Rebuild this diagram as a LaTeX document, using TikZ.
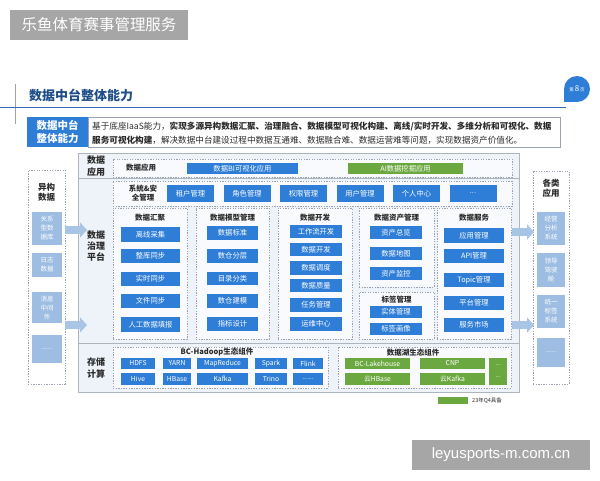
\documentclass[tikz,border=0pt]{standalone}
\usepackage{fontspec}
\setmainfont{Noto Sans CJK SC}
\newfontfamily\wmfont{Liberation Sans}
\usetikzlibrary{arrows.meta}
\definecolor{bblue}{HTML}{2E7DD7}
\definecolor{ggreen}{HTML}{6BA83F}
\definecolor{lblue}{HTML}{9DBDE3}
\definecolor{arrowc}{HTML}{A8C5E5}
\definecolor{titlec}{HTML}{1F4E89}
\definecolor{dgray}{HTML}{9AA3AF}
\definecolor{mainfill}{HTML}{EEF3F9}
\definecolor{innerfill}{HTML}{F8FAFD}
\definecolor{txtdark}{HTML}{2B2B2B}
\definecolor{hdrgray}{HTML}{A6A6A6}
\definecolor{linec}{HTML}{2B6CB5}
\newcommand\Bx[7][]{%
  \pgfmathsetmacro\bxcx{(#3+#5)/2}%
  \pgfmathsetmacro\bxcy{(#4+#6)/2}%
  \pgfmathsetmacro\bxw{#5-#3}%
  \pgfmathsetmacro\bxh{#6-#4}%
  \node[#1,minimum width=\bxw pt,minimum height=\bxh pt,inner sep=0pt] (#2) at (\bxcx,\bxcy) {#7};}
\begin{document}
\begin{tikzpicture}[x=1pt,y=-1pt,
  ibox/.style={fill=bblue,text=white,font=\fontsize{7.3}{8}\selectfont},
  gbox/.style={fill=ggreen,text=white,font=\fontsize{7.3}{8}\selectfont,align=center},
  cbox/.style={fill=lblue,text=white,align=center,font=\fontsize{6.5}{9}\selectfont},
  dbox/.style={draw=dgray,fill=innerfill,line width=0.7pt,dash pattern=on 1.3pt off 1.3pt},
  subt/.style={text=txtdark,font=\fontsize{7.5}{9}\selectfont\bfseries,align=center},
  rowlab/.style={text=txtdark,font=\fontsize{9}{11.3}\selectfont\bfseries,align=center},
  sepline/.style={draw=dgray!80,line width=0.8pt},
  barrow/.style={arrowc,line width=8pt,-{Triangle[length=7pt,width=15pt]}},
  introt/.style={anchor=west,text=txtdark,font=\fontsize{8.6}{10}\selectfont,inner sep=0pt}
]
\useasboundingbox (0,0) rectangle (600,480);
\fill[white] (0,0) rectangle (600,480);
% header
\Bx[fill=hdrgray,text=white,font=\fontsize{15.5}{17}\selectfont]{hdr}{10}{10}{188}{40}{乐鱼体育赛事管理服务}
% title
\node[anchor=west,text=titlec,font=\fontsize{13}{15}\selectfont\bfseries,inner sep=0pt] (title) at (29,95.5) {数据中台整体能力};
\draw[dgray,line width=0.6pt] (15,84) -- (15,124);
\draw[linec,line width=1.1pt] (0,107.5) -- (566,107.5);
\fill[bblue] (577,89) circle (13);
\fill[bblue] (564,89) rectangle (577,102);
\node[text=white,font=\fontsize{4.5}{5}\selectfont,inner sep=0pt] (page) at (577,89) {第 {\fontsize{8}{9}\selectfont 8} 页};
% intro
\Bx[fill=bblue,text=white,align=center,font=\fontsize{10.5}{13}\selectfont\bfseries]{introlab}{27}{117}{88}{147}{数据中台\\整体能力}
\Bx[draw=dgray,fill=white,line width=0.7pt]{introbox}{88}{117}{560}{147}{}
\node[introt] (il1) at (92,126.5) {基于底座IaaS能力，\textbf{实现多源异构数据汇聚、治理融合、数据模型可视化构建、离线/实时开发、多维分析和可视化、数据}};
\node[introt] (il2) at (92,140.5) {\textbf{服务可视化构建}，解决数据中台建设过程中数据互通难、数据融合难、数据运营难等问题，实现数据资产价值化。};
% main box
\Bx[draw=dgray!80,fill=mainfill,line width=0.8pt]{main}{78}{153}{519}{392}{}
\draw[sepline] (78,178) -- (519,178);
\draw[sepline] (78,343) -- (519,343);
\node[rowlab] (l1) at (96,166) {数据\\应用};
\node[rowlab] (l2) at (96,246) {数据\\治理\\平台};
\node[rowlab] (l3) at (96,368) {存储\\计算};
% data application row
\Bx[dbox]{appbox}{113}{159}{512}{177}{}
\node[subt] (apptitle) at (141,168) {数据应用};
\Bx[ibox]{bi}{187}{163}{298}{174}{数据BI可视化应用}
\Bx[gbox]{ai}{348}{163}{463}{174}{AI数据挖掘应用}
% system & security
\Bx[dbox]{sysbox}{113}{181}{512}{206}{}
\node[subt] (systitle) at (143,193.5) {系统\&安\\全管理};
\Bx[ibox]{s1}{167}{185}{214}{202}{租户管理}
\Bx[ibox]{s2}{223.5}{185}{270.5}{202}{角色管理}
\Bx[ibox]{s3}{280}{185}{327}{202}{权限管理}
\Bx[ibox]{s4}{336.5}{185}{383.5}{202}{用户管理}
\Bx[ibox]{s5}{393}{185}{440}{202}{个人中心}
\Bx[ibox]{s6}{449.5}{185}{496.5}{202}{...}
% data aggregation
\Bx[dbox]{hjbox}{113}{208}{187}{339}{}
\node[subt] (hjt) at (150,218) {数据汇聚};
\Bx[ibox]{h1}{121}{227}{180}{242}{离线采集}
\Bx[ibox]{h2}{121}{249}{180}{263}{整库同步}
\Bx[ibox]{h3}{121}{272}{180}{286}{实时同步}
\Bx[ibox]{h4}{121}{294}{180}{308}{文件同步}
\Bx[ibox]{h5}{121}{317}{180}{332}{人工数据填报}
% data model
\Bx[dbox]{mdbox}{196}{208}{269}{339}{}
\node[subt] (mdt) at (232.5,218) {数据模型管理};
\Bx[ibox]{m1}{207}{226}{258}{240}{数据标准}
\Bx[ibox]{m2}{207}{249}{258}{263}{数仓分层}
\Bx[ibox]{m3}{207}{272}{258}{285}{目录分类}
\Bx[ibox]{m4}{207}{294}{258}{308}{数仓建模}
\Bx[ibox]{m5}{207}{317}{258}{331}{指标设计}
% data dev
\Bx[dbox]{dvbox}{278}{208}{352}{339}{}
\node[subt] (dvt) at (315,218) {数据开发};
\Bx[ibox]{d1}{290}{225}{342}{238}{工作流开发}
\Bx[ibox]{d2}{290}{243}{342}{256}{数据开发}
\Bx[ibox]{d3}{290}{261}{342}{275}{数据调度}
\Bx[ibox]{d4}{290}{279}{342}{292}{数据质量}
\Bx[ibox]{d5}{290}{298}{342}{312}{任务管理}
\Bx[ibox]{d6}{290}{317}{342}{331}{运维中心}
% asset
\Bx[dbox]{asbox}{359}{208}{434}{287}{}
\node[subt] (ast) at (396.5,218) {数据资产管理};
\Bx[ibox]{a1}{370}{226}{422}{239}{资产总览}
\Bx[ibox]{a2}{370}{247}{422}{260}{数据地图}
\Bx[ibox]{a3}{370}{267}{422}{280}{资产监控}
% tag
\Bx[dbox]{tgbox}{359}{292}{434}{339}{}
\node[subt] (tgt) at (396.5,299.5) {标签管理};
\Bx[ibox]{t1}{370}{306}{422}{318}{实体管理}
\Bx[ibox]{t2}{370}{323}{422}{335}{标签画像}
% service
\Bx[dbox]{svbox}{437}{208}{511}{339}{}
\node[subt] (svt) at (474,218) {数据服务};
\Bx[ibox]{v1}{444}{228}{504}{243}{应用管理}
\Bx[ibox]{v2}{444}{249}{504}{263}{API管理}
\Bx[ibox]{v3}{444}{273}{504}{287}{Topic管理}
\Bx[ibox]{v4}{444}{296}{504}{310}{平台管理}
\Bx[ibox]{v5}{444}{318}{504}{332}{服务市场}
% storage: hadoop
\Bx[dbox]{hdbox}{113}{347}{328}{388}{}
\node[subt] (hdt) at (217,352.5) {BC-Hadoop生态组件};
\Bx[ibox,font=\fontsize{6.8}{8}\selectfont]{p1}{121}{358}{155}{369}{HDFS}
\Bx[ibox,font=\fontsize{6.8}{8}\selectfont]{p2}{163}{358}{191}{369}{YARN}
\Bx[ibox,font=\fontsize{6.8}{8}\selectfont]{p3}{197}{358}{248}{369}{MapReduce}
\Bx[ibox,font=\fontsize{6.8}{8}\selectfont]{p4}{255}{358}{287}{369}{Spark}
\Bx[ibox,font=\fontsize{6.8}{8}\selectfont]{p5}{293}{358}{323}{369}{Flink}
\Bx[ibox,font=\fontsize{6.8}{8}\selectfont]{q1}{121}{373}{155}{385}{Hive}
\Bx[ibox,font=\fontsize{6.8}{8}\selectfont]{q2}{163}{373}{191}{385}{HBase}
\Bx[ibox,font=\fontsize{6.8}{8}\selectfont]{q3}{197}{373}{248}{385}{Kafka}
\Bx[ibox,font=\fontsize{6.8}{8}\selectfont]{q4}{255}{373}{287}{385}{Trino}
\Bx[ibox,font=\fontsize{6.8}{8}\selectfont]{q5}{293}{373}{323}{385}{......}
% storage: lake
\Bx[dbox]{lkbox}{338}{347}{511}{388}{}
\node[subt] (lkt) at (413,352.5) {数据湖生态组件};
\Bx[gbox,font=\fontsize{6.8}{8}\selectfont]{g1}{345}{358}{410}{369}{BC-Lakehouse}
\Bx[gbox,font=\fontsize{6.8}{8}\selectfont]{g2}{420}{358}{485}{369}{CNP}
\Bx[gbox,font=\fontsize{6.8}{8}\selectfont]{g3}{345}{373}{410}{385}{云HBase}
\Bx[gbox,font=\fontsize{6.8}{8}\selectfont]{g4}{420}{373}{485}{385}{云Kafka}
\Bx[gbox,font=\fontsize{6}{12}\selectfont]{g5}{489}{358}{507}{385}{...\\...}
% legend
\Bx[fill=ggreen]{leg}{438}{397}{468}{404}{}
\node[anchor=west,text=txtdark,font=\fontsize{5.5}{6}\selectfont,inner sep=0pt] (legt) at (472,400.5) {23年Q4具备};
% left column
\Bx[dbox,fill=white]{lcol}{28}{170}{65}{384}{}
\node[subt,font=\fontsize{8.5}{10}\selectfont\bfseries] (lct) at (46.5,192) {异构\\数据};
\Bx[cbox]{c1}{32}{212}{62}{245}{关系\\型数\\据库}
\Bx[cbox]{c2}{32}{253}{62}{277}{日志\\数据}
\Bx[cbox]{c3}{32}{292}{62}{323}{消息\\中间\\件}
\Bx[cbox]{c4}{32}{335}{62}{363}{......}
% right column
\Bx[dbox,fill=white]{rcol}{533}{171}{569}{384}{}
\node[subt,font=\fontsize{8.5}{10}\selectfont\bfseries] (rct) at (551,188) {各类\\应用};
\Bx[cbox]{r1}{537}{212}{565}{245}{经营\\分析\\系统}
\Bx[cbox]{r2}{537}{253}{565}{287}{领导\\驾驶\\舱}
\Bx[cbox]{r3}{537}{295}{565}{328}{统一\\标签\\系统}
\Bx[cbox]{r4}{537}{338}{565}{367}{......}
% arrows
\coordinate (la1s) at (65,230);
\coordinate (la1e) at (87,230);
\coordinate (la2s) at (65,325);
\coordinate (la2e) at (87,325);
\coordinate (ra1s) at (512,232);
\coordinate (ra1e) at (534,232);
\coordinate (ra2s) at (512,325);
\coordinate (ra2e) at (534,325);
\draw[barrow] (la1s) -- (la1e);
\draw[barrow] (la2s) -- (la2e);
\draw[barrow] (ra1s) -- (ra1e);
\draw[barrow] (ra2s) -- (ra2e);
% watermark
\Bx[fill=hdrgray,text=white,font=\wmfont\fontsize{15}{17}\selectfont]{wm}{412}{440}{590}{470}{leyusports-m.com.cn}
\end{tikzpicture}
\end{document}
